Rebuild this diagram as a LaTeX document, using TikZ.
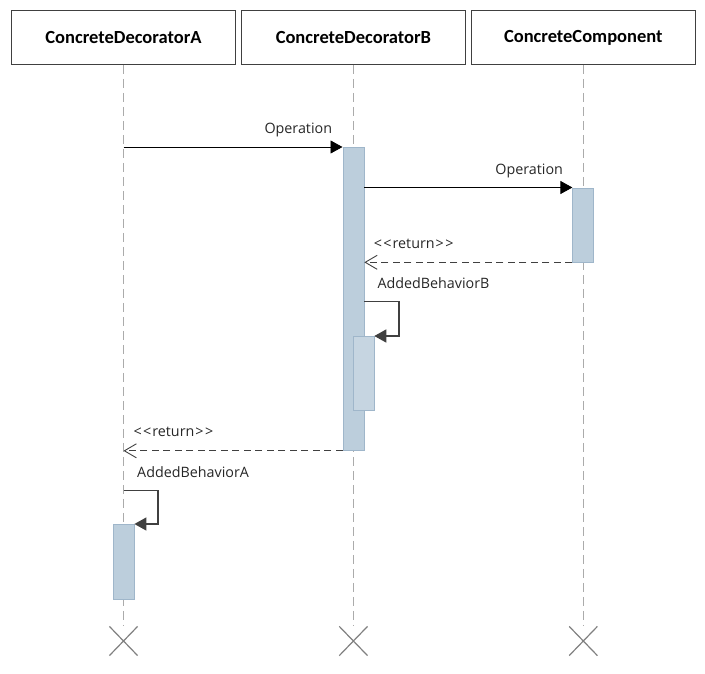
\documentclass[tikz,border=0pt]{standalone}
\usepackage{fontspec}
\setmainfont{Open Sans}
\newfontfamily\headfont{Carlito}
\usetikzlibrary{arrows.meta,positioning,shapes.misc}
\definecolor{actfill}{HTML}{BCCEDC}
\definecolor{actfillb}{HTML}{C6D5E1}
\definecolor{actdraw}{HTML}{9FB6CA}
\definecolor{lifegray}{HTML}{ABABAB}
\definecolor{framegray}{HTML}{404040}
\tikzstyle{header} = [rectangle, minimum width=224pt, minimum height=54pt, inner sep=0pt, text centered, draw=framegray, line width=0.9pt, font=\headfont\bfseries\fontsize{18.5}{20}\selectfont]
\tikzstyle{activation} = [rectangle, minimum width=21pt, inner sep=0pt, anchor=north, fill=actfill, draw=actdraw, line width=0.8pt]
\tikzstyle{endmark} = [cross out, draw=gray, line width=1.2pt, minimum width=27pt, minimum height=28pt, inner sep=0pt]
\tikzstyle{lifeline} = [draw=lifegray, line width=1.6pt, dash pattern=on 9pt off 5pt]
\tikzstyle{call} = [line width=0.9pt, -{Triangle[length=12pt,width=13pt]}]
\tikzstyle{selfcall} = [draw=framegray, line width=1.4pt, -{Triangle[length=12pt,width=13pt]}]
\tikzstyle{ret} = [draw=framegray, line width=1pt, dash pattern=on 7pt off 4.5pt, -{Straight Barb[length=12pt,width=14pt,line width=0.9pt]}]
\tikzstyle{msglabel} = [inner sep=0pt, font=\fontsize{14.3}{16}\selectfont, text=black!85]
\begin{document}
\begin{tikzpicture}[x=1pt, y=-1pt, node distance=5pt]
\useasboundingbox (0,0) rectangle (705,673);
			\node[header] (hdA) at (123.5,37.5) {ConcreteDecoratorA};
			\node[header, right=of hdA] (hdB) {ConcreteDecoratorB};
			\node[header, right=of hdB] (hdC) {ConcreteComponent};
			
			\node[endmark] (endA) at (hdA.south |- 0,641) {};
			\node[endmark] (endB) at (hdB.south |- 0,641) {};
			\node[endmark] (endC) at (hdC.south |- 0,641) {};
			
			%lifelines
			\draw[lifeline] (hdA) -- (endA);
			\draw[lifeline] (hdB) -- (endB);
			\draw[lifeline] (hdC) -- (endC);
			
			%activations
			\node[activation, minimum height=303pt] (actB) at (hdB.south |- 0,147) {};
			\node[activation, minimum height=74pt] (actC) at (hdC.south |- 0,187.5) {};
			\node[activation, minimum height=74pt, fill=actfillb, xshift=10pt] (actBB) at (hdB.south |- 0,336) {};
			\node[activation, minimum height=75pt] (actA) at (hdA.south |- 0,524) {};
			
			\coordinate (selfB) at (actB.east |- 0,301.5);
			\coordinate (selfA) at (hdA.south |- 0,490.5);
			
			%arrow
			\draw [call] (hdA.south |- actB.north west) -- (actB.north west)
				node[msglabel, anchor=base east, xshift=-10pt, yshift=14pt]{Operation};
			\draw [call] (actB.east |- actC.north west) -- (actC.north west)
				node[msglabel, anchor=base east, xshift=-9pt, yshift=13pt]{Operation};
			\draw [ret] (actC.south west) -- (actB.east |- actC.south west)
				node[msglabel, anchor=base west, xshift=9pt, yshift=14pt]{<\kern1.5pt<\kern1pt return\kern1pt>\kern1.5pt>};
			\draw [selfcall] (selfB) node[msglabel, anchor=base west, xshift=12.5pt, yshift=13.5pt]{AddedBehaviorB}
				-- ++(34.5,0) |- (actBB.north east);
			\draw [ret] (actB.south west) -- (hdA.south |- actB.south west)
				node[msglabel, anchor=base west, xshift=9.5pt, yshift=14pt]{<\kern1.5pt<\kern1pt return\kern1pt>\kern1.5pt>};
			\draw [selfcall] (selfA) node[msglabel, anchor=base west, xshift=13pt, yshift=13.5pt]{AddedBehaviorA}
				-- ++(34.5,0) |- (actA.north east);
			
\end{tikzpicture}
\end{document}
